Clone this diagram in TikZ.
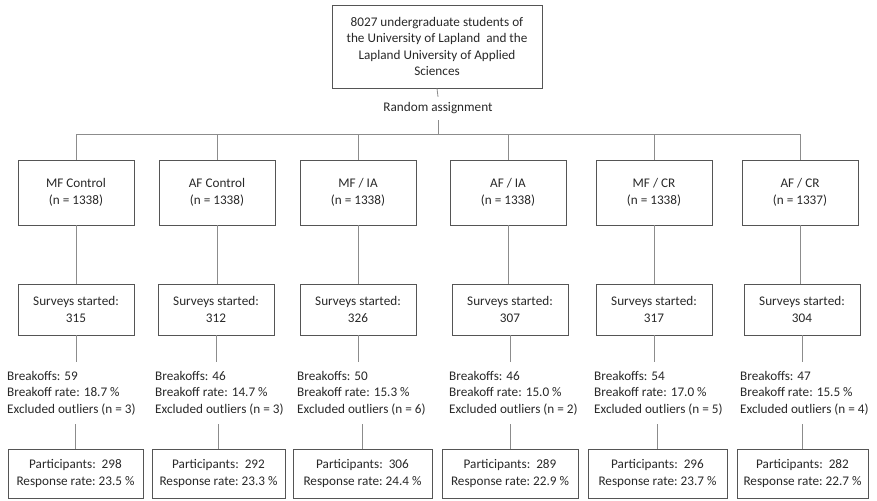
\documentclass[tikz,border=0pt]{standalone}
\usepackage{fontspec}
\setmainfont{Carlito}
\definecolor{boxcol}{RGB}{85,85,85}
\definecolor{linecol}{RGB}{140,140,140}
\definecolor{txtcol}{RGB}{40,40,40}
\begin{document}
\begin{tikzpicture}[x=1pt,y=-1pt,
  every node/.style={text=txtcol,font=\fontsize{13.2}{16.5}\selectfont},
  box/.style={draw=boxcol,line width=0.9pt,rectangle,align=center,inner sep=0pt},
  grp/.style={box,minimum width=116pt,minimum height=65pt},
  srv/.style={box,minimum width=116pt,minimum height=51pt},
  par/.style={box,minimum height=49pt},
  info/.style={align=left,anchor=west,inner sep=0pt,minimum height=62pt},
  conn/.style={draw=linecol,line width=0.8pt}]
\useasboundingbox (0,0) rectangle (877,500);
% top
\node[box,minimum width=210pt,minimum height=83pt] (top) at (437,46.5)
  {8027 undergraduate students of\\the University of Lapland\ \ and the\\Lapland University of Applied\\Sciences};
\node[inner sep=0pt,minimum height=23pt] (ra) at (438,108.5) {Random assignment};
\coordinate (hub) at (438,134);
% row 1
\node[grp] (g1) at (76,192.5) {MF Control\\(n = 1338)};
\node[grp] (g2) at (217,192.5) {AF Control\\(n = 1338)};
\node[grp] (g3) at (358,192.5) {MF / IA\\(n = 1338)};
\node[grp] (g4) at (508,192.5) {AF / IA\\(n = 1338)};
\node[grp] (g5) at (654,192.5) {MF / CR\\(n = 1338)};
\node[grp] (g6) at (800,192.5) {AF / CR\\(n = 1337)};
% row 2
\node[srv] (s1) at (76,309.5) {Surveys started:\\315};
\node[srv] (s2) at (216,309.5) {Surveys started:\\312};
\node[srv] (s3) at (358,309.5) {Surveys started:\\326};
\node[srv] (s4) at (510,309.5) {Surveys started:\\307};
\node[srv] (s5) at (654,309.5) {Surveys started:\\317};
\node[srv] (s6) at (802,309.5) {Surveys started:\\304};
% info
\node[info] (k1) at (7,393) {Breakoffs: 59\\Breakoff rate: 18.7 \%\\Excluded outliers (n = 3)};
\node[info] (k2) at (155,393) {Breakoffs: 46\\Breakoff rate: 14.7 \%\\Excluded outliers (n = 3)};
\node[info] (k3) at (297,393) {Breakoffs: 50\\Breakoff rate: 15.3 \%\\Excluded outliers (n = 6)};
\node[info] (k4) at (449,393) {Breakoffs: 46\\Breakoff rate: 15.0 \%\\Excluded outliers (n = 2)};
\node[info] (k5) at (594,393) {Breakoffs: 54\\Breakoff rate: 17.0 \%\\Excluded outliers (n = 5)};
\node[info] (k6) at (740,393) {Breakoffs: 47\\Breakoff rate: 15.5 \%\\Excluded outliers (n = 4)};
% row 3
\node[par,minimum width=135pt] (p1) at (75.5,473.5) {Participants:\ \ 298\\Response rate:\ 23.5 \%};
\node[par,minimum width=133pt] (p2) at (218.5,473.5) {Participants:\ \ 292\\Response rate:\ 23.3 \%};
\node[par,minimum width=139pt] (p3) at (362.5,473.5) {Participants:\ \ 306\\Response rate:\ 24.4 \%};
\node[par,minimum width=136pt] (p4) at (510,473.5) {Participants:\ \ 289\\Response rate:\ 22.9 \%};
\node[par,minimum width=139pt] (p5) at (657.5,473.5) {Participants:\ \ 296\\Response rate:\ 23.7 \%};
\node[par,minimum width=131pt] (p6) at (802.5,473.5) {Participants:\ \ 282\\Response rate:\ 22.7 \%};
% connectors
\draw[conn] (top.south) -- (ra.north);
\draw[conn] (ra.south) -- (hub);
\draw[conn] (g1.north |- hub) -- (g6.north |- hub);
\foreach \i in {1,...,6}{
  \draw[conn] (g\i.north |- hub) -- (g\i.north);
  \draw[conn] (g\i.south) -- (g\i.south |- s\i.north);
  \draw[conn] (s\i.south) -- (s\i.south |- k\i.north);
  \draw[conn] (p\i.north |- k\i.south) -- (p\i.north);
}
\end{tikzpicture}
\end{document}
